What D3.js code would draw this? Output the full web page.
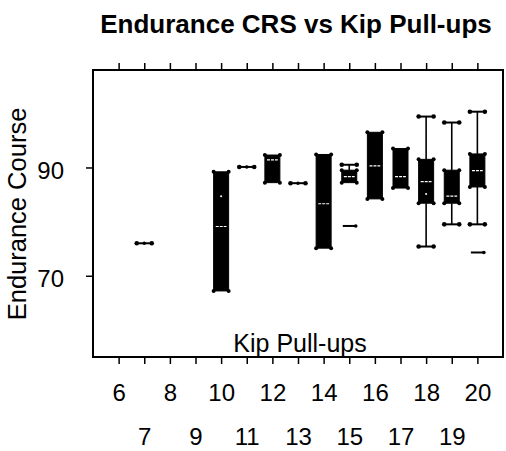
<!DOCTYPE html>
<html>
<head>
<meta charset="utf-8">
<script src="https://cdn.jsdelivr.net/npm/d3@7"></script>
<style>
  html, body { margin: 0; padding: 0; background: #fff; }
  svg text { font-family: "Liberation Sans", Arial, sans-serif; fill: #000; }
</style>
</head>
<body>
<svg id="chart" width="506" height="451"></svg>
<script>
// Kip pull-up counts (x categories)
const pullups   = [7, 10, 11, 12, 13, 14, 15, 16, 17, 18, 19, 20];
// Endurance course box statistics for each pull-up count
const maxVals   = [76.0, 89.2, 90.1, 92.3, 87.1, 92.4, 90.5, 96.5, 93.5, 99.4, 98.3, 100.3];
const q3Vals    = [76.0, 89.2, 90.1, 92.3, 87.1, 92.4, 89.5, 96.5, 93.5, 91.5, 89.5, 92.5];
const medians   = [76.0, 79.1, 90.1, 91.4, 87.1, 83.3, 88.3, 90.3, 88.3, 87.4, 84.7, 89.4];
const q1Vals    = [76.0, 67.2, 90.1, 87.2, 87.1, 75.1, 87.2, 84.2, 86.2, 83.4, 83.4, 86.4];
const minVals   = [76.0, 67.2, 90.1, 87.2, 87.1, 75.1, 87.2, 84.2, 86.2, 75.4, 79.5, 79.5];
const means     = [null, 84.7, null, null, null, null, null, null, null, 85.1, null, null];
// Outlying observations
const outlierX  = [15, 20];
const outlierY  = [79.2, 74.3];

const xTicks = [6, 7, 8, 9, 10, 11, 12, 13, 14, 15, 16, 17, 18, 19, 20];
const yTicks = [70, 90];

const titleText = "Endurance CRS vs Kip Pull-ups";
const xTitle = "Kip Pull-ups";
const yTitle = "Endurance Course";

const svg = d3.select("#chart");
const plotL = 93, plotR = 503, plotT = 70, plotB = 357;

const x = d3.scaleLinear().domain([5, 21]).range([plotL, plotR]);
const y = d3.scaleLinear().domain([55, 108]).range([plotB, plotT]);

const boxW = 15;
const labelFont = "Liberation Sans, Arial, sans-serif";

// title
svg.append("text")
  .attr("x", 296).attr("y", 33)
  .attr("text-anchor", "middle")
  .attr("font-size", 26).attr("font-weight", "bold")
  .text(titleText);

// bottom axis: ticks outward, labels staggered on two rows
const xAxis = svg.append("g")
  .attr("transform", `translate(0,${plotB})`)
  .call(d3.axisBottom(x).tickValues(xTicks).tickSize(7).tickFormat(d3.format("d")));
xAxis.select(".domain").remove();
xAxis.selectAll("line").attr("stroke", "#000").attr("stroke-width", 1.5);
xAxis.selectAll("text")
  .attr("dy", null)
  .attr("y", d => d % 2 === 0 ? 44 : 88)
  .attr("font-size", 24)
  .attr("font-family", labelFont);

// top axis ticks
const xTop = svg.append("g")
  .attr("transform", `translate(0,${plotT})`)
  .call(d3.axisTop(x).tickValues(xTicks).tickSize(7).tickFormat(""));
xTop.select(".domain").remove();
xTop.selectAll("line").attr("stroke", "#000").attr("stroke-width", 1.5);

// left axis
const yAxis = svg.append("g")
  .attr("transform", `translate(${plotL},0)`)
  .call(d3.axisLeft(y).tickValues(yTicks).tickSize(7).tickPadding(22).tickFormat(d3.format("d")));
yAxis.select(".domain").remove();
yAxis.selectAll("line").attr("stroke", "#000").attr("stroke-width", 1.5);
yAxis.selectAll("text")
  .attr("dy", "0.45em")
  .attr("font-size", 24)
  .attr("font-family", labelFont);

// frame
svg.append("rect")
  .attr("x", plotL).attr("y", plotT)
  .attr("width", plotR - plotL).attr("height", plotB - plotT)
  .attr("fill", "none").attr("stroke", "#000").attr("stroke-width", 2);

// axis titles
svg.append("text")
  .attr("x", 300).attr("y", 352)
  .attr("text-anchor", "middle")
  .attr("font-size", 25)
  .text(xTitle);

svg.append("text")
  .attr("transform", "translate(26,214) rotate(-90)")
  .attr("text-anchor", "middle")
  .attr("font-size", 25.5)
  .text(yTitle);

// boxes
const rows = pullups.map((p, i) => ({
  p, max: maxVals[i], q3: q3Vals[i], med: medians[i], q1: q1Vals[i], min: minVals[i], mean: means[i]
}));

const g = svg.append("g");

function cap(sel, cx, v) {
  sel.append("line")
    .attr("x1", cx - boxW / 2).attr("x2", cx + boxW / 2)
    .attr("y1", y(v)).attr("y2", y(v))
    .attr("stroke", "#000").attr("stroke-width", 2);
  [cx - boxW / 2, cx + boxW / 2].forEach(px => {
    sel.append("circle").attr("cx", px).attr("cy", y(v)).attr("r", 2.3).attr("fill", "#000");
  });
}

rows.forEach(r => {
  const cx = x(r.p);
  const grp = g.append("g");
  // whiskers
  if (r.max > r.q3) {
    grp.append("line").attr("x1", cx).attr("x2", cx)
      .attr("y1", y(r.max)).attr("y2", y(r.q3))
      .attr("stroke", "#000").attr("stroke-width", 1.6);
    cap(grp, cx, r.max);
  }
  if (r.min < r.q1) {
    grp.append("line").attr("x1", cx).attr("x2", cx)
      .attr("y1", y(r.q1)).attr("y2", y(r.min))
      .attr("stroke", "#000").attr("stroke-width", 1.6);
    cap(grp, cx, r.min);
  }
  if (r.q3 === r.q1) {
    // single observation: just a capped bar
    cap(grp, cx, r.q3);
    grp.append("circle").attr("cx", cx).attr("cy", y(r.q3)).attr("r", 1.8).attr("fill", "#000");
    return;
  }
  // box
  grp.append("rect")
    .attr("x", cx - boxW / 2).attr("y", y(r.q3))
    .attr("width", boxW).attr("height", y(r.q1) - y(r.q3))
    .attr("fill", "#000").attr("stroke", "#000").attr("stroke-width", 1);
  [[r.q3, -1], [r.q3, 1], [r.q1, -1], [r.q1, 1]].forEach(([v, s]) => {
    grp.append("circle").attr("cx", cx + s * boxW / 2).attr("cy", y(v)).attr("r", 2).attr("fill", "#000");
  });
  // median
  grp.append("line")
    .attr("x1", cx - boxW * 0.36).attr("x2", cx + boxW * 0.36)
    .attr("y1", y(r.med)).attr("y2", y(r.med))
    .attr("stroke", "#fff").attr("stroke-width", 1.2)
    .attr("stroke-dasharray", "3,1");
  // mean
  if (r.mean != null) {
    grp.append("circle").attr("cx", cx).attr("cy", y(r.mean)).attr("r", 1).attr("fill", "#fff");
  }
});

// outliers: short dash with a dot at its right end
outlierX.forEach((ox, i) => {
  const cx = x(ox);
  g.append("line")
    .attr("x1", cx - boxW / 2 + 1).attr("x2", cx + boxW / 2 - 1)
    .attr("y1", y(outlierY[i])).attr("y2", y(outlierY[i]))
    .attr("stroke", "#000").attr("stroke-width", 2);
  g.append("circle")
    .attr("cx", cx + boxW / 2 - 1).attr("cy", y(outlierY[i])).attr("r", 1.8)
    .attr("fill", "#000");
});
</script>
</body>
</html>
